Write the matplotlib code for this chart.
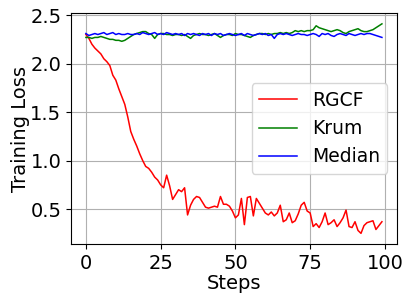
import numpy as np
import matplotlib
matplotlib.use('Agg')
import matplotlib.pyplot as plt

# 训练损失数据
steps = np.arange(100)

rgcf = [2.30, 2.26, 2.20, 2.16, 2.13, 2.10, 2.05, 2.02, 1.98, 1.88,
        1.83, 1.74, 1.66, 1.58, 1.45, 1.30, 1.22, 1.15, 1.07, 1.00,
        0.94, 0.92, 0.88, 0.83, 0.80, 0.75, 0.72, 0.85, 0.74, 0.60,
        0.65, 0.70, 0.68, 0.72, 0.44, 0.54, 0.60, 0.63, 0.62, 0.57,
        0.52, 0.51, 0.52, 0.53, 0.52, 0.63, 0.55, 0.55, 0.53, 0.48,
        0.41, 0.44, 0.61, 0.34, 0.62, 0.63, 0.43, 0.61, 0.56, 0.51,
        0.46, 0.44, 0.47, 0.43, 0.46, 0.54, 0.37, 0.39, 0.46, 0.36,
        0.38, 0.45, 0.54, 0.57, 0.48, 0.46, 0.32, 0.35, 0.31, 0.37,
        0.46, 0.34, 0.36, 0.39, 0.32, 0.36, 0.41, 0.49, 0.32, 0.31,
        0.37, 0.28, 0.25, 0.33, 0.36, 0.37, 0.38, 0.29, 0.33, 0.37]

krum = [2.27, 2.27, 2.26, 2.27, 2.27, 2.28, 2.27, 2.26, 2.25, 2.25,
        2.24, 2.24, 2.23, 2.24, 2.26, 2.28, 2.30, 2.31, 2.32, 2.33,
        2.33, 2.31, 2.30, 2.26, 2.30, 2.31, 2.31, 2.30, 2.30, 2.29,
        2.30, 2.30, 2.29, 2.30, 2.28, 2.26, 2.29, 2.30, 2.31, 2.30,
        2.30, 2.29, 2.30, 2.31, 2.29, 2.27, 2.29, 2.30, 2.30, 2.29,
        2.31, 2.30, 2.30, 2.29, 2.28, 2.27, 2.29, 2.30, 2.31, 2.31,
        2.30, 2.31, 2.30, 2.31, 2.31, 2.32, 2.31, 2.32, 2.31, 2.32,
        2.34, 2.33, 2.34, 2.33, 2.34, 2.34, 2.35, 2.39, 2.37, 2.36,
        2.35, 2.34, 2.33, 2.34, 2.35, 2.34, 2.32, 2.31, 2.33, 2.34,
        2.35, 2.36, 2.34, 2.33, 2.33, 2.34, 2.35, 2.37, 2.39, 2.41]

median = [2.31, 2.29, 2.30, 2.31, 2.30, 2.31, 2.32, 2.30, 2.31, 2.32,
          2.30, 2.31, 2.30, 2.30, 2.31, 2.30, 2.30, 2.31, 2.30, 2.32,
          2.31, 2.30, 2.31, 2.32, 2.30, 2.31, 2.30, 2.32, 2.31, 2.30,
          2.31, 2.30, 2.31, 2.29, 2.31, 2.30, 2.31, 2.30, 2.29, 2.31,
          2.30, 2.31, 2.29, 2.31, 2.30, 2.31, 2.29, 2.30, 2.31, 2.30,
          2.29, 2.30, 2.31, 2.29, 2.31, 2.30, 2.29, 2.30, 2.31, 2.30,
          2.31, 2.29, 2.30, 2.26, 2.30, 2.31, 2.30, 2.31, 2.30, 2.29,
          2.30, 2.31, 2.30, 2.30, 2.29, 2.30, 2.31, 2.30, 2.28, 2.31,
          2.30, 2.31, 2.29, 2.28, 2.30, 2.31, 2.30, 2.29, 2.31, 2.30,
          2.29, 2.30, 2.31, 2.30, 2.31, 2.31, 2.30, 2.29, 2.28, 2.27]

fig = plt.figure(figsize=(4.04, 2.97), dpi=100)
ax = fig.add_axes([0.176, 0.179, 0.806, 0.776])

ax.plot(steps, rgcf, color='red', lw=1.1, label='RGCF')
ax.plot(steps, krum, color='green', lw=1.1, label='Krum')
ax.plot(steps, median, color='blue', lw=1.1, label='Median')

ax.set_xlabel('Steps', fontsize=14, labelpad=1)
ax.set_ylabel('Training Loss', fontsize=14, labelpad=0.5)
ax.set_xticks([0, 25, 50, 75, 100])
ax.set_yticks([0.5, 1.0, 1.5, 2.0, 2.5])
ax.tick_params(labelsize=14)
ax.grid(True)
ax.legend(loc='center right', fontsize=13.5)

plt.savefig('out.png', dpi=100)
